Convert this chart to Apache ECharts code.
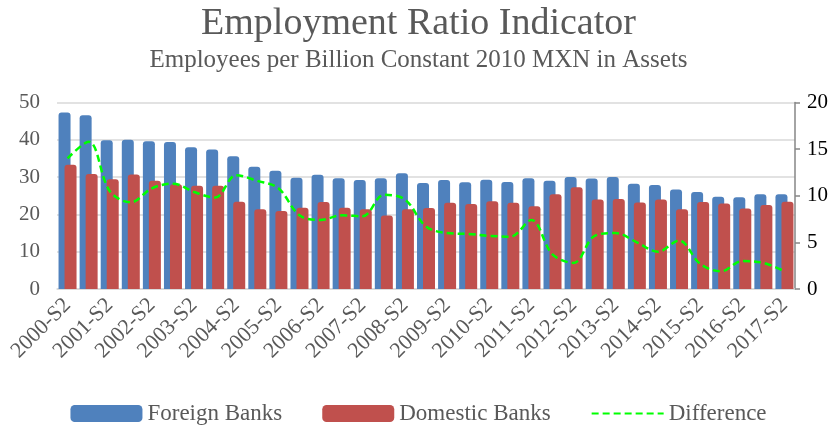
<!DOCTYPE html>
<html>
<head>
<meta charset="utf-8">
<script src="https://cdn.jsdelivr.net/npm/echarts@6/dist/echarts.min.js"></script>
<style>html,body{margin:0;padding:0;background:#fff}#c{width:837px;height:432px}</style>
</head>
<body>
<div id="c"></div>
<script>
var categories = [];
for (var y = 2000; y <= 2017; y++) {
  if (y > 2000) categories.push(y + '-S1');
  categories.push(y + '-S2');
}
var foreignBanks = [47.3, 46.6, 39.9, 40.0, 39.6, 39.4, 38.0, 37.4, 35.6, 32.8, 31.7, 29.8, 30.6, 29.7, 29.2, 29.7, 31.0, 28.4, 29.2, 28.6, 29.3, 28.7, 29.7, 29.0, 30.0, 29.6, 30.0, 28.2, 27.9, 26.7, 26.0, 24.7, 24.6, 25.4, 25.4];
var domesticBanks = [33.3, 30.8, 29.4, 30.7, 29.0, 28.1, 27.7, 27.7, 23.4, 21.4, 20.9, 21.8, 23.3, 21.8, 21.4, 19.7, 21.4, 21.7, 23.1, 22.8, 23.5, 23.1, 22.2, 25.4, 27.3, 24.0, 24.1, 23.2, 24.0, 21.4, 23.3, 22.9, 21.6, 22.5, 23.4];
var difference = [14.0, 15.8, 10.5, 9.3, 10.8, 11.3, 10.4, 9.8, 12.2, 11.6, 10.8, 7.9, 7.4, 7.9, 7.8, 10.1, 9.6, 6.7, 6.0, 5.9, 5.7, 5.6, 7.4, 3.7, 2.8, 5.7, 6.0, 5.0, 4.0, 5.2, 2.7, 1.9, 3.0, 2.8, 1.9];
var leftTicks = [0, 50, 10];
var rightTicks = [0, 20, 5];

var FONT = "'Liberation Serif','Times New Roman',serif";
var TXT = '#595959';
var chart = echarts.init(document.getElementById('c'));
chart.setOption({
  animation: false,
  textStyle: { fontFamily: FONT, color: TXT },
  title: {
    text: 'Employment Ratio Indicator',
    subtext: 'Employees per Billion Constant 2010 MXN in Assets',
    left: 'center', top: 0, itemGap: 5,
    textStyle: { fontFamily: FONT, fontSize: 38, fontWeight: 'normal', color: TXT },
    subtextStyle: { fontFamily: FONT, fontSize: 25, color: TXT }
  },
  legend: {
    bottom: 2, left: 'center',
    itemWidth: 72, itemHeight: 17, itemGap: 40,
    textStyle: { fontFamily: FONT, fontSize: 23, color: TXT },
    data: [
      { name: 'Foreign Banks', icon: 'roundRect' },
      { name: 'Domestic Banks', icon: 'roundRect' },
      { name: 'Difference', itemStyle: { opacity: 0 } }
    ]
  },
  grid: { left: 57, right: 42, top: 102.5, bottom: 143 },
  xAxis: {
    type: 'category', data: categories,
    axisLine: { lineStyle: { color: '#D9D9D9', width: 1.5 } },
    axisTick: { show: false },
    axisLabel: { interval: 1, rotate: 45, fontFamily: FONT, fontSize: 22, color: TXT, margin: 13 }
  },
  yAxis: [
    {
      type: 'value', min: leftTicks[0], max: leftTicks[1], interval: leftTicks[2],
      axisLine: { show: false }, axisTick: { show: false },
      splitLine: { lineStyle: { color: '#D9D9D9', width: 1.5 } },
      axisLabel: { fontFamily: FONT, fontSize: 21, color: TXT, margin: 17 }
    },
    {
      type: 'value', position: 'right', min: rightTicks[0], max: rightTicks[1], interval: rightTicks[2],
      axisLine: { show: true, lineStyle: { color: '#868686', width: 1.5 } },
      axisTick: { show: true, length: 5, lineStyle: { color: '#868686', width: 1.5 } },
      splitLine: { show: false },
      axisLabel: { fontFamily: FONT, fontSize: 21, color: '#000', margin: 12 }
    }
  ],
  series: [
    {
      name: 'Foreign Banks', type: 'bar', data: foreignBanks, barWidth: 12, barGap: '-50%',
      itemStyle: { color: '#4F81BD', borderRadius: [3, 3, 0, 0] }
    },
    {
      name: 'Domestic Banks', type: 'bar', data: domesticBanks, barWidth: 12,
      itemStyle: { color: '#C0504D', borderRadius: [3, 3, 0, 0] }
    },
    {
      name: 'Difference', type: 'line', yAxisIndex: 1, data: difference, smooth: 0.35,
      symbol: 'none',
      lineStyle: { color: '#00FF00', width: 2.5, type: [7, 4] },
      itemStyle: { color: '#00FF00' }
    }
  ]
});
</script>
</body>
</html>
